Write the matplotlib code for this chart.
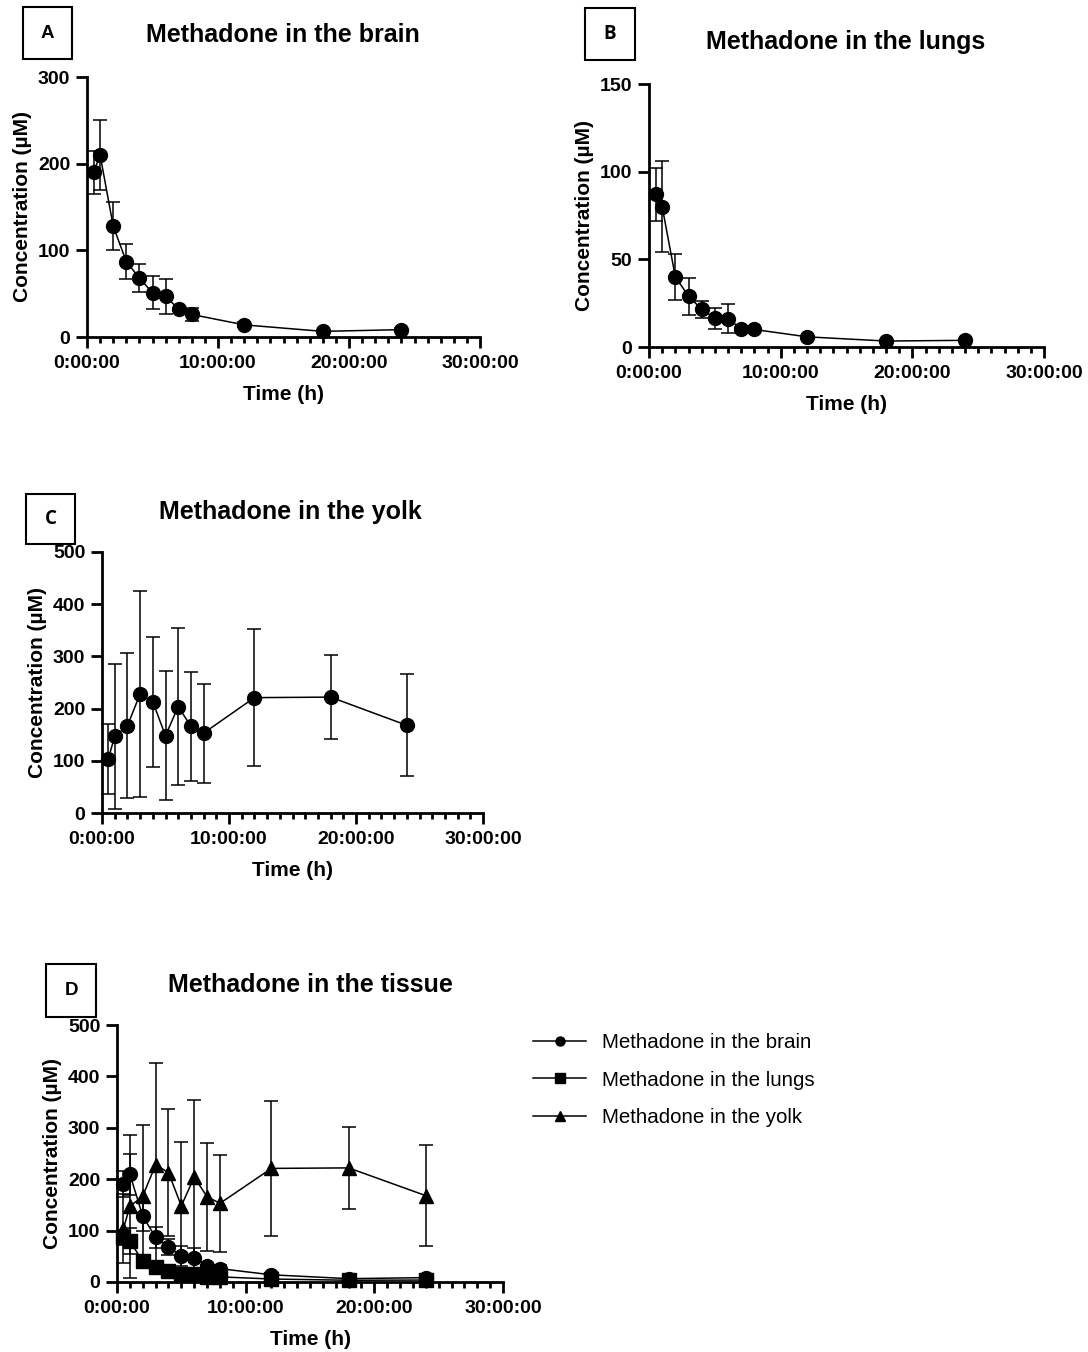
import matplotlib
matplotlib.use("Agg")
import matplotlib.pyplot as plt
from matplotlib.patches import Rectangle
from matplotlib.ticker import FixedLocator, MultipleLocator, FuncFormatter
from matplotlib.lines import Line2D

# Sampling times (h) and mean +/- SD concentrations (uM)
hours = [0.5, 1, 2, 3, 4, 5, 6, 7, 8, 12, 18, 24]
brain = [190, 210, 128, 87, 68, 51, 47, 32, 26, 14, 6.5, 8.5]
brain_sd = [25, 40, 28, 20.5, 16, 19, 20, 2, 7.5, 3, 2, 2]
lungs = [87, 80, 40, 29, 21.5, 16.5, 16, 10.5, 10, 5.8, 3.4, 3.8]
lungs_sd = [15, 26, 13, 10.5, 4.7, 6, 8.3, 1, 1, 0.5, 0.5, 0.5]
yolk = [104, 147, 167, 228, 213, 148, 204, 166, 153, 221, 222, 168]
yolk_sd = [67, 139, 139, 198, 124, 124, 151, 105, 95, 131, 80, 98]

x_major = [0, 10, 20, 30]
series_names = ["Methadone in the brain", "Methadone in the lungs", "Methadone in the yolk"]

W, H = 1088, 1352
plt.rcParams["font.family"] = ["Liberation Sans", "DejaVu Sans"]
fig = plt.figure(figsize=(W / 100, H / 100), dpi=100)


def px_axes(l, t, r, b):
    return fig.add_axes([l / W, 1 - b / H, (r - l) / W, (b - t) / H])


def fx(x):
    return x / W


def fy(y):
    return 1 - y / H


def style_axes(ax, ymax, ystep):
    ax.set_xlim(0, 30)
    ax.set_ylim(0, ymax)
    for s in ["top", "right"]:
        ax.spines[s].set_visible(False)
    for s in ["left", "bottom"]:
        ax.spines[s].set_linewidth(2)
    ax.xaxis.set_major_locator(FixedLocator(x_major))
    ax.xaxis.set_minor_locator(MultipleLocator(1))
    ax.xaxis.set_major_formatter(FuncFormatter(lambda v, p: "%d:00:00" % v))
    ax.yaxis.set_major_locator(MultipleLocator(ystep))
    ax.tick_params(axis="both", which="major", length=8, width=2, labelsize=14)
    ax.tick_params(axis="x", which="minor", length=4.5, width=2)
    ax.tick_params(axis="x", which="major", pad=5)
    ax.tick_params(axis="y", which="major", pad=4)
    for lab in ax.get_xticklabels() + ax.get_yticklabels():
        lab.set_fontweight("bold")
    ax.set_xlabel("Time (h)", fontsize=15, fontweight="bold", labelpad=9)
    ax.set_ylabel("Concentration (µM)", fontsize=15, fontweight="bold", labelpad=4)


def plot_series(ax, y, err, marker, ms=10, label=None):
    ax.errorbar(hours, y, yerr=err, fmt="-" + marker, color="black", ms=ms,
                lw=1.1, elinewidth=1.1, capsize=5, capthick=1.1,
                clip_on=False, zorder=3, label=label)


def panel_label(letter, l, t, r, b, family):
    fig.patches.append(Rectangle((fx(l), fy(b)), fx(r - l), (b - t) / H,
                                 transform=fig.transFigure, fill=False,
                                 edgecolor="black", linewidth=1.5))
    fig.text(fx((l + r) / 2), fy((t + b) / 2), letter, ha="center", va="center",
             fontsize=13.5, fontweight="bold", family=family)


def panel_title(text, cx, cy):
    fig.text(fx(cx), fy(cy), text, ha="center", va="center",
             fontsize=18, fontweight="bold")


# A: brain
axA = px_axes(87, 77, 480, 337)
plot_series(axA, brain, brain_sd, "o")
style_axes(axA, 300, 100)
panel_title("Methadone in the brain", 283, 35)
panel_label("A", 23, 7, 72, 59, ["Liberation Sans", "DejaVu Sans"])

# B: lungs
axB = px_axes(649, 84, 1044, 347)
plot_series(axB, lungs, lungs_sd, "o")
style_axes(axB, 150, 50)
panel_title("Methadone in the lungs", 846, 42)
panel_label("B", 585, 8, 635, 60, ["Open Sans", "DejaVu Sans"])

# C: yolk
axC = px_axes(102, 552, 483, 813)
plot_series(axC, yolk, yolk_sd, "o")
style_axes(axC, 500, 100)
panel_title("Methadone in the yolk", 290, 512)
panel_label("C", 26, 494, 75, 544, ["Open Sans", "DejaVu Sans"])

# D: all tissues
axD = px_axes(117, 1025, 503, 1282)
plot_series(axD, brain, brain_sd, "o")
plot_series(axD, lungs, lungs_sd, "s")
plot_series(axD, yolk, yolk_sd, "^")
style_axes(axD, 500, 100)
panel_title("Methadone in the tissue", 310, 985)
panel_label("D", 46, 964, 96, 1017, ["Liberation Sans", "DejaVu Sans"])

handles = [Line2D([], [], color="black", marker=m, ms=6.5, lw=1.1) for m in ["o", "s", "^"]]
fig.legend(handles, series_names, loc="upper left",
           bbox_to_anchor=(fx(533), fy(1033)), frameon=False, fontsize=14.8,
           handlelength=2.6, handletextpad=0.75, labelspacing=0.9,
           borderpad=0, borderaxespad=0)

fig.savefig("out.png", dpi=100)
